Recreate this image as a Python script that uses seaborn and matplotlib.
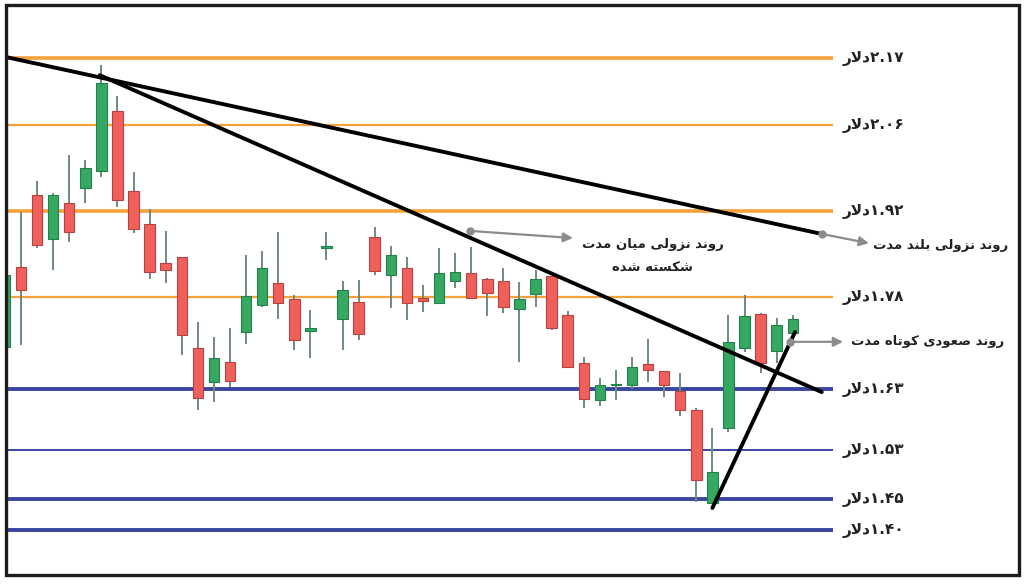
import numpy as np
import pandas as pd
import matplotlib
matplotlib.use("Agg")
import matplotlib.pyplot as plt
from matplotlib.patches import Rectangle
import seaborn as sns

# ---------------- data ----------------
opens = [1.699, 1.829, 1.947, 1.875, 1.933, 1.958, 1.986, 2.084, 1.953, 1.899,
         1.836, 1.845, 1.697, 1.641, 1.674, 1.723, 1.767, 1.803, 1.777, 1.725,
         1.860, 1.744, 1.772, 1.878, 1.816, 1.827, 1.779, 1.770, 1.806, 1.819,
         1.810, 1.806, 1.761, 1.785, 1.814, 1.751, 1.672, 1.612, 1.636, 1.637,
         1.671, 1.659, 1.627, 1.596, 1.444, 1.566, 1.697, 1.752, 1.692, 1.721]
highs = [1.832, 1.919, 1.969, 1.950, 2.012, 2.004, 2.159, 2.108, 1.984, 1.924,
         1.888, 1.846, 1.739, 1.715, 1.730, 1.849, 1.855, 1.886, 1.783, 1.759,
         1.886, 1.806, 1.808, 1.894, 1.863, 1.845, 1.800, 1.860, 1.852, 1.862,
         1.811, 1.827, 1.805, 1.824, 1.815, 1.757, 1.682, 1.648, 1.661, 1.682,
         1.712, 1.660, 1.656, 1.599, 1.566, 1.751, 1.783, 1.754, 1.746, 1.751]
lows = [1.697, 1.702, 1.860, 1.824, 1.870, 1.933, 1.976, 1.927, 1.885, 1.810,
        1.803, 1.686, 1.596, 1.609, 1.633, 1.703, 1.764, 1.744, 1.694, 1.681,
        1.840, 1.694, 1.710, 1.816, 1.762, 1.743, 1.756, 1.769, 1.795, 1.778,
        1.749, 1.754, 1.674, 1.764, 1.726, 1.664, 1.599, 1.602, 1.612, 1.630,
        1.641, 1.617, 1.586, 1.446, 1.444, 1.560, 1.690, 1.656, 1.672, 1.718]
closes = [1.816, 1.792, 1.865, 1.947, 1.886, 1.991, 2.129, 1.938, 1.891, 1.821,
          1.824, 1.718, 1.615, 1.681, 1.643, 1.782, 1.827, 1.770, 1.710, 1.730,
          1.862, 1.792, 1.720, 1.823, 1.849, 1.770, 1.774, 1.819, 1.821, 1.779,
          1.787, 1.764, 1.777, 1.810, 1.730, 1.666, 1.614, 1.637, 1.638, 1.666,
          1.661, 1.637, 1.596, 1.482, 1.495, 1.707, 1.749, 1.672, 1.734, 1.744]

resistance_levels = [2.17, 2.06, 1.92, 1.78]
support_levels = [1.63, 1.53, 1.45, 1.40]
level_labels = ["2.17", "2.06", "1.92", "1.78", "1.63", "1.53", "1.45", "1.40"]

long_trend_x = [0.0, 50.8]
long_trend_y = [2.172, 1.883]
mid_trend_x = [5.9, 50.8]
mid_trend_y = [2.142, 1.625]
short_trend_x = [44.0, 49.14]
short_trend_y = [1.436, 1.723]

# ---------------- Persian shaping helpers ----------------
FORMS = {
    'ا': ('\uFE8D', '\uFE8E', None, None),
    'ب': ('\uFE8F', '\uFE90', '\uFE91', '\uFE92'),
    'ت': ('\uFE95', '\uFE96', '\uFE97', '\uFE98'),
    'د': ('\uFEA9', '\uFEAA', None, None),
    'ر': ('\uFEAD', '\uFEAE', None, None),
    'ز': ('\uFEAF', '\uFEB0', None, None),
    'س': ('\uFEB1', '\uFEB2', '\uFEB3', '\uFEB4'),
    'ش': ('\uFEB5', '\uFEB6', '\uFEB7', '\uFEB8'),
    'ص': ('\uFEB9', '\uFEBA', '\uFEBB', '\uFEBC'),
    'ع': ('\uFEC9', '\uFECA', '\uFECB', '\uFECC'),
    'ک': ('\uFB8E', '\uFB8F', '\uFB90', '\uFB91'),
    'ل': ('\uFEDD', '\uFEDE', '\uFEDF', '\uFEE0'),
    'م': ('\uFEE1', '\uFEE2', '\uFEE3', '\uFEE4'),
    'ن': ('\uFEE5', '\uFEE6', '\uFEE7', '\uFEE8'),
    'ه': ('\uFEE9', '\uFEEA', '\uFEEB', '\uFEEC'),
    'و': ('\uFEED', '\uFEEE', None, None),
    'ی': ('\uFBFC', '\uFBFD', '\uFBFE', '\uFBFF'),
}


def shape(text):
    chars = list(text)
    out = []
    i = 0
    while i < len(chars):
        c = chars[i]
        if c not in FORMS:
            out.append(c)
            i += 1
            continue
        prev = chars[i - 1] if i > 0 else None
        jp = prev in FORMS and FORMS[prev][2] is not None
        if c == 'ل' and i + 1 < len(chars) and chars[i + 1] == 'ا':
            out.append('\uFEFC' if jp else '\uFEFB')
            i += 2
            continue
        nxt = chars[i + 1] if i + 1 < len(chars) else None
        jn = FORMS[c][2] is not None and nxt in FORMS
        f = FORMS[c]
        if jp and jn:
            out.append(f[3])
        elif jp:
            out.append(f[1])
        elif jn:
            out.append(f[2])
        else:
            out.append(f[0])
        i += 1
    return ''.join(out)


def rtl(text):
    return shape(text)[::-1]


FA_DIGITS = str.maketrans("0123456789", "۰۱۲۳۴۵۶۷۸۹")

# ---------------- figure ----------------
sns.set_theme(style="white")
plt.rcParams['font.family'] = ['DejaVu Sans']

W, H = 1025, 585
fig = plt.figure(figsize=(W / 100, H / 100), dpi=100)
ax = fig.add_axes([6 / W, 10 / H, 827 / W, 570 / H])
ax.set_xlim(0.07, 51.5)
ax.set_ylim(1.3266, 2.2565)
ax.set_axis_off()

df = pd.DataFrame({"o": opens, "h": highs, "l": lows, "c": closes})
df["idx"] = np.arange(len(df))
up = df["c"] >= df["o"]

GREEN, GREEN_E = "#35a862", "#23804a"
RED, RED_E = "#f0605b", "#b8423d"
WICK = "#6f8c7b"
TXT = "#222222"

# level lines
for v in resistance_levels:
    lw = 2.6 if v in (2.17, 1.92) else 1.6
    sns.lineplot(x=[0.07, 51.5], y=[v, v], ax=ax, color="#f6a23a", lw=lw, zorder=1)
for v in support_levels:
    lw = 1.4 if v == 1.53 else 2.8
    sns.lineplot(x=[0.07, 51.5], y=[v, v], ax=ax, color="#3a45a0", lw=lw, zorder=1)

# candles
ax.vlines(df["idx"], df["l"], df["h"], color=WICK, lw=1.4, zorder=2)
body_bottom = np.minimum(df["o"], df["c"])
body_h = np.maximum(np.abs(df["c"] - df["o"]), 0.003)
ax.bar(df["idx"][up], body_h[up], bottom=body_bottom[up], width=0.65,
       color=GREEN, edgecolor=GREEN_E, lw=0.8, zorder=3)
ax.bar(df["idx"][~up], body_h[~up], bottom=body_bottom[~up], width=0.65,
       color=RED, edgecolor=RED_E, lw=0.8, zorder=3)

# trend lines
for xs, ys in [(long_trend_x, long_trend_y), (mid_trend_x, mid_trend_y),
               (short_trend_x, short_trend_y)]:
    sns.lineplot(x=xs, y=ys, ax=ax, color="black", lw=2.8, zorder=4,
                 estimator=None, sort=False)

# level labels
for v, lab in zip(resistance_levels + support_levels, level_labels):
    ax.text(1.012, v, rtl("دلار") + lab.translate(FA_DIGITS),
            transform=ax.get_yaxis_transform(), ha="left", va="center",
            fontsize=11, fontweight="bold", color=TXT, clip_on=False)

# annotations with gray arrows
ARROW = "#8c8c8c"
FS = 9.5
arrow_kw = dict(arrowstyle="-|>", color=ARROW, lw=1.6, mutation_scale=14)
ax.annotate("", xy=(53.9, 1.867), xytext=(50.8, 1.883),
            arrowprops=arrow_kw, annotation_clip=False)
ax.plot([50.8], [1.883], "o", color=ARROW, ms=5, zorder=5, clip_on=False)
ax.text(54.0, 1.864, rtl("روند نزولی بلند مدت"), ha="left", va="center",
        fontsize=FS, fontweight="bold", color=TXT, clip_on=False)

ax.annotate("", xy=(35.5, 1.876), xytext=(28.9, 1.888),
            arrowprops=arrow_kw, annotation_clip=False)
ax.plot([28.9], [1.888], "o", color=ARROW, ms=5, zorder=5)
ax.text(40.3, 1.866, rtl("روند نزولی میان مدت"), ha="center", va="center",
        fontsize=FS, fontweight="bold", color=TXT)
ax.text(40.3, 1.828, rtl("شکسته شده"), ha="center", va="center",
        fontsize=FS, fontweight="bold", color=TXT)

ax.annotate("", xy=(52.3, 1.707), xytext=(48.8, 1.707),
            arrowprops=arrow_kw, annotation_clip=False)
ax.plot([48.8], [1.707], "o", color=ARROW, ms=5, zorder=5)
ax.text(52.6, 1.707, rtl("روند صعودی کوتاه مدت"), ha="left", va="center",
        fontsize=FS, fontweight="bold", color=TXT, clip_on=False)

# outer frame
fig.patches.append(Rectangle((6 / W, 10 / H), 1013 / W, 570 / H,
                             transform=fig.transFigure, fill=False,
                             ec="#1c1c1c", lw=2.4, zorder=10))

fig.savefig("out.png", dpi=100)
